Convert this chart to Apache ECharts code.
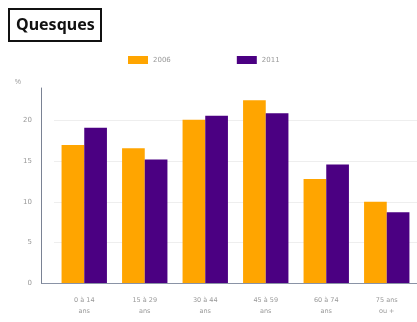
<!DOCTYPE html>
<html><head><meta charset="utf-8">
<script src="https://cdn.jsdelivr.net/npm/echarts@6/dist/echarts.min.js"></script>
<style>html,body{margin:0;padding:0;background:#fff}#c{width:417px;height:322px}</style>
</head><body><div id="c"></div>
<script>
const categories = ['0 à 14\nans', '15 à 29\nans', '30 à 44\nans', '45 à 59\nans', '60 à 74\nans', '75 ans\nou +'];
const series2006 = [17.0, 16.6, 20.1, 22.5, 12.8, 10.0];
const series2011 = [19.1, 15.2, 20.6, 20.9, 14.6, 8.7];
const seriesNames = ['2006', '2011'];
const titleText = 'Quesques';
const unitLabel = '%';

const chart = echarts.init(document.getElementById('c'), null, {renderer: 'canvas'});
chart.setOption({
  animation: false,
  backgroundColor: '#fff',
  title: {
    text: titleText, left: 9, top: 9, padding: [8, 7, 8, 7],
    borderColor: '#111', borderWidth: 2,
    textStyle: {fontFamily: 'Noto Sans', fontWeight: 'bold', fontSize: 16, color: '#111'}
  },
  legend: {
    data: seriesNames, left: 123, top: 51, itemWidth: 20, itemHeight: 8, itemGap: 66,
    icon: 'rect',
    textStyle: {fontSize: 7, color: '#999', fontFamily: 'DejaVu Sans'}
  },
  grid: {left: 54, right: -7, top: 88, bottom: 39},
  xAxis: {
    type: 'category', data: categories,
    axisLine: {show: true, lineStyle: {color: '#8a93a6', width: 1}},
    axisTick: {show: false},
    axisLabel: {fontSize: 6.5, color: '#999', margin: 12, lineHeight: 11, fontFamily: 'DejaVu Sans'}
  },
  yAxis: {
    type: 'value', min: 0, max: 24, interval: 5, offset: 13,
    name: unitLabel, nameLocation: 'end', nameGap: 2,
    nameTextStyle: {fontSize: 7, color: '#999', align: 'right', padding: [0, 20, 0, 0]},
    axisLine: {show: true, lineStyle: {color: '#7a8294', width: 1}},
    axisTick: {show: false},
    axisLabel: {fontSize: 7, color: '#999', margin: 9, showMaxLabel: false, fontFamily: 'DejaVu Sans'},
    splitLine: {show: true, lineStyle: {color: ['#eeeeee', '#eeeeee', '#eeeeee', '#eeeeee', '#eeeeee', 'rgba(0,0,0,0)'], width: 1}}
  },
  graphic: [{
    type: 'line', shape: {x1: 41, y1: 283.5, x2: 54, y2: 283.5},
    style: {stroke: '#8a93a6', lineWidth: 1}, silent: true
  }],
  series: [
    {name: seriesNames[0], type: 'bar', data: series2006, barGap: '0%', barCategoryGap: '25%',
     itemStyle: {color: '#FFA500'}},
    {name: seriesNames[1], type: 'bar', data: series2011,
     itemStyle: {color: '#4B0082'}}
  ]
});
</script>
</body></html>
